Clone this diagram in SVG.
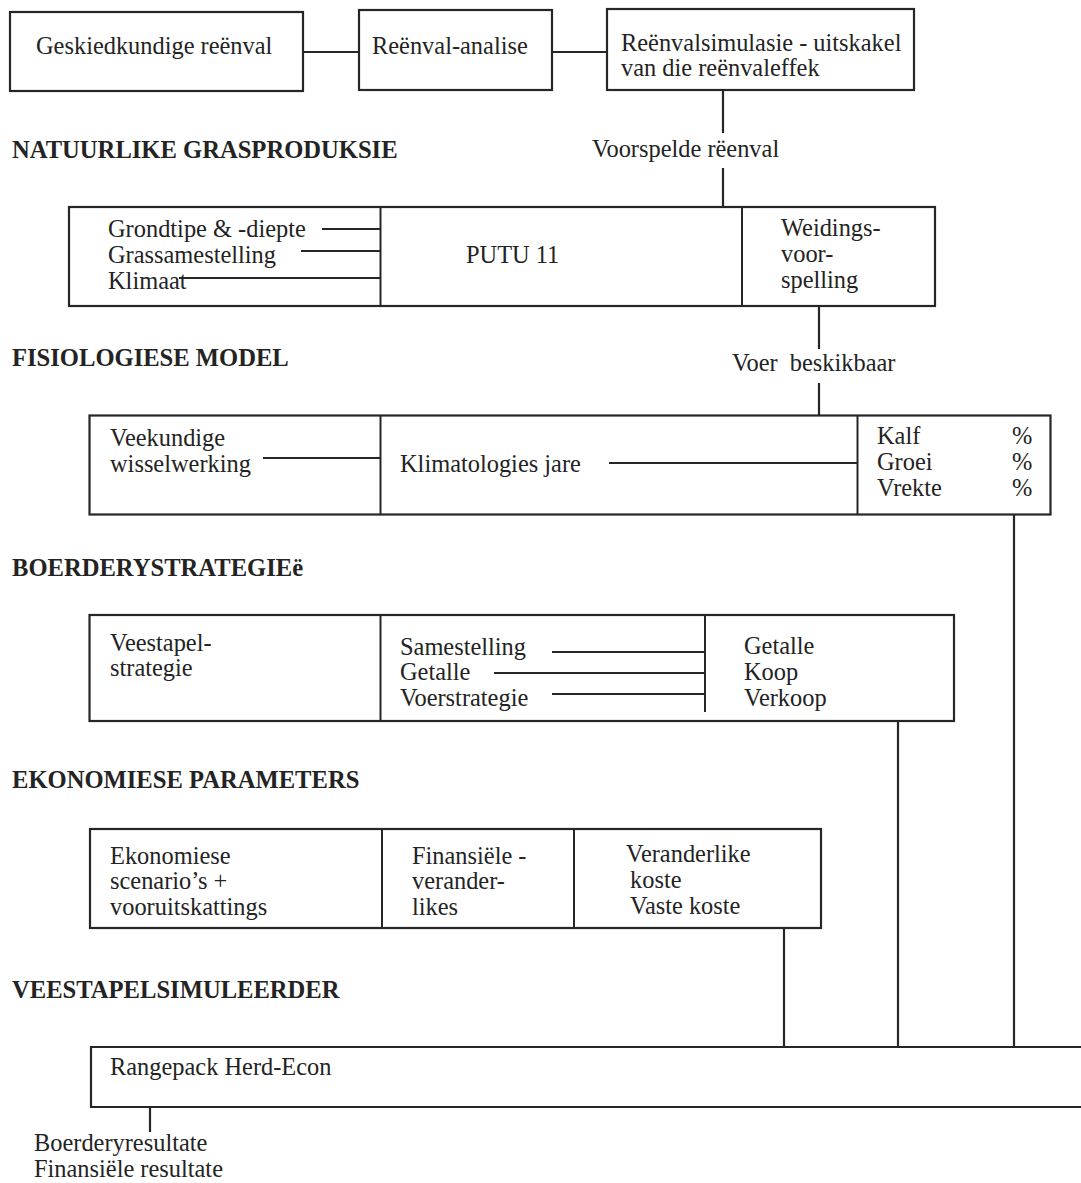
<svg xmlns="http://www.w3.org/2000/svg" width="1081" height="1183" viewBox="0 0 1081 1183">
<style>
  .bg{fill:#ffffff}
  .box{fill:none;stroke:#262626;stroke-width:2.2}
  .div{stroke:#262626;stroke-width:2}
  .con{stroke:#262626;stroke-width:2.2;fill:none}
  text{font-family:"Liberation Serif","Times New Roman",serif;fill:#232323}
  .t{font-size:24.4px}
  .h{font-size:24.6px;font-weight:bold}
</style>
<rect class="bg" x="0" y="0" width="1081" height="1183"/>

<g id="headings">
  <text class="h" x="12" y="158">NATUURLIKE GRASPRODUKSIE</text>
  <text class="h" x="12" y="366">FISIOLOGIESE MODEL</text>
  <text class="h" x="12" y="576">BOERDERYSTRATEGIEë</text>
  <text class="h" x="12" y="788">EKONOMIESE PARAMETERS</text>
  <text class="h" x="12" y="998">VEESTAPELSIMULEERDER</text>
</g>

<g id="connectors">
  <line class="con" x1="303" y1="52" x2="359" y2="52"/>
  <line class="con" x1="552" y1="52" x2="607" y2="52"/>
  <line class="con" x1="723" y1="90" x2="723" y2="133"/>
  <line class="con" x1="723" y1="168" x2="723" y2="207"/>
  <line class="con" x1="322" y1="229" x2="380" y2="229"/>
  <line class="con" x1="301" y1="251" x2="380" y2="251"/>
  <line class="con" x1="179" y1="278" x2="380" y2="278"/>
  <line class="con" x1="819" y1="306" x2="819" y2="349"/>
  <line class="con" x1="819" y1="383" x2="819" y2="415"/>
  <line class="con" x1="263" y1="458" x2="380" y2="458"/>
  <line class="con" x1="609" y1="463" x2="857" y2="463"/>
  <line class="con" x1="1014" y1="514" x2="1014" y2="1047"/>
  <line class="con" x1="552" y1="652" x2="705" y2="652"/>
  <line class="con" x1="494" y1="673" x2="705" y2="673"/>
  <line class="con" x1="552" y1="694" x2="705" y2="694"/>
  <line class="con" x1="898" y1="721" x2="898" y2="1047"/>
  <line class="con" x1="784" y1="928" x2="784" y2="1047"/>
  <line class="con" x1="150" y1="1107" x2="150" y2="1132"/>
  <text class="t" x="592" y="157">Voorspelde rëenval</text>
  <text class="t" x="732" y="371" xml:space="preserve">Voer  beskikbaar</text>
  <text class="t" x="34" y="1151">Boerderyresultate</text>
  <text class="t" x="34" y="1177">Finansiële resultate</text>
</g>

<g id="n-historic">
  <rect class="box" x="10" y="12" width="293" height="79"/>
  <text class="t" x="36" y="54">Geskiedkundige reënval</text>
</g>

<g id="n-analysis">
  <rect class="box" x="359" y="10" width="193" height="80"/>
  <text class="t" x="372" y="54">Reënval-analise</text>
</g>

<g id="n-simulation">
  <rect class="box" x="607" y="9" width="307" height="81"/>
  <text class="t" x="621" y="51">Reënvalsimulasie - uitskakel</text>
  <text class="t" x="621" y="76">van die reënvaleffek</text>
</g>

<g id="n-putu">
  <rect class="box" x="69" y="207" width="866" height="99"/>
  <line class="div" x1="380.5" y1="207" x2="380.5" y2="306"/>
  <line class="div" x1="742" y1="207" x2="742" y2="306"/>
  <text class="t" x="108" y="237">Grondtipe &amp; -diepte</text>
  <text class="t" x="108" y="263">Grassamestelling</text>
  <text class="t" x="108" y="289">Klimaat</text>
  <text class="t" x="466" y="263">PUTU 11</text>
  <text class="t" x="781" y="236">Weidings-</text>
  <text class="t" x="781" y="262">voor-</text>
  <text class="t" x="781" y="288">spelling</text>
</g>

<g id="n-physiology">
  <rect class="box" x="89.5" y="415.5" width="961" height="99"/>
  <line class="div" x1="380.5" y1="415.5" x2="380.5" y2="514.5"/>
  <line class="div" x1="857.5" y1="415.5" x2="857.5" y2="514.5"/>
  <text class="t" x="110" y="446">Veekundige</text>
  <text class="t" x="110" y="472">wisselwerking</text>
  <text class="t" x="400" y="472">Klimatologies jare</text>
  <text class="t" x="877" y="444">Kalf</text>
  <text class="t" x="877" y="470">Groei</text>
  <text class="t" x="877" y="496">Vrekte</text>
  <text class="t" x="1012" y="444">%</text>
  <text class="t" x="1012" y="470">%</text>
  <text class="t" x="1012" y="496">%</text>
</g>

<g id="n-strategy">
  <rect class="box" x="89.5" y="615" width="864.5" height="106"/>
  <line class="div" x1="380.5" y1="615" x2="380.5" y2="721"/>
  <line class="div" x1="705" y1="615" x2="705" y2="712"/>
  <text class="t" x="110" y="651">Veestapel-</text>
  <text class="t" x="110" y="676">strategie</text>
  <text class="t" x="400" y="655">Samestelling</text>
  <text class="t" x="400" y="680">Getalle</text>
  <text class="t" x="400" y="706">Voerstrategie</text>
  <text class="t" x="744" y="654">Getalle</text>
  <text class="t" x="744" y="680">Koop</text>
  <text class="t" x="744" y="706">Verkoop</text>
</g>

<g id="n-economic">
  <rect class="box" x="90" y="829" width="731" height="99"/>
  <line class="div" x1="382" y1="829" x2="382" y2="928"/>
  <line class="div" x1="574" y1="829" x2="574" y2="928"/>
  <text class="t" x="110" y="864">Ekonomiese</text>
  <text class="t" x="110" y="889">scenario’s +</text>
  <text class="t" x="110" y="915">vooruitskattings</text>
  <text class="t" x="412" y="864">Finansiële -</text>
  <text class="t" x="412" y="889">verander-</text>
  <text class="t" x="412" y="915">likes</text>
  <text class="t" x="626" y="862">Veranderlike</text>
  <text class="t" x="630" y="888">koste</text>
  <text class="t" x="630" y="914">Vaste koste</text>
</g>

<g id="n-rangepack">
  <path class="box" d="M1085 1047 H91 V1107 H1085"/>
  <text class="t" x="110" y="1075">Rangepack Herd-Econ</text>
</g>
</svg>
